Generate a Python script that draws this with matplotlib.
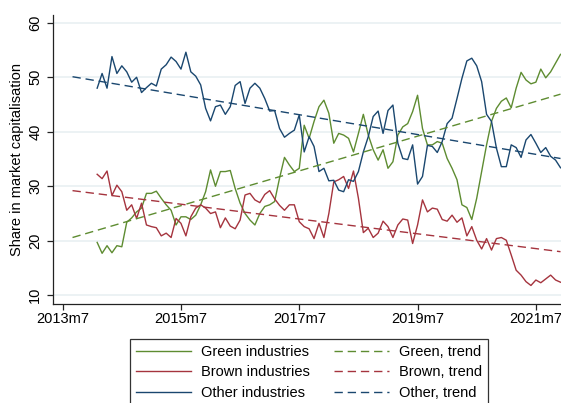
import matplotlib
matplotlib.use("Agg")
import matplotlib.pyplot as plt
import numpy as np
import pandas as pd

plt.rcParams["font.family"] = ["Liberation Sans", "DejaVu Sans"]
plt.rcParams["lines.scale_dashes"] = False

# Monthly shares in market capitalisation (%), 2014m2 - 2021m12
green = [19.7, 17.7, 19.1, 17.8, 19.1, 18.9, 23.4, 24.2, 25.3, 26.0, 28.7, 28.7,
         29.1, 27.8, 26.6, 25.6, 22.9, 24.4, 24.4, 23.9, 24.7, 26.6, 29.0, 33.0,
         30.0, 32.7, 32.7, 32.9, 29.6, 26.9, 25.0, 23.8, 22.9, 25.0, 26.3, 26.6,
         27.2, 31.5, 35.3, 33.9, 32.7, 33.3, 41.2, 38.8, 41.9, 44.6, 45.8, 43.4,
         37.9, 39.7, 39.4, 38.8, 36.3, 39.7, 43.2, 39.4, 36.7, 34.8, 36.7, 33.3,
         34.5, 39.4, 40.9, 41.5, 43.7, 46.7, 40.6, 37.6, 37.6, 38.2, 37.9, 35.1,
         33.3, 31.2, 26.6, 26.1, 23.9, 27.8, 32.7, 37.6, 41.9, 44.3, 45.6, 46.2,
         44.4, 48.0, 50.9, 49.5, 48.8, 49.1, 51.5, 49.9, 51.0, 52.6, 54.2]
brown = [32.2, 31.4, 32.8, 28.3, 30.2, 29.0, 25.6, 26.6, 24.1, 26.9, 22.9, 22.6,
         22.4, 20.9, 21.4, 20.6, 24.1, 23.2, 20.9, 24.4, 26.0, 26.6, 26.0, 25.0,
         25.3, 22.4, 24.2, 22.7, 22.2, 23.8, 28.4, 28.7, 27.5, 27.0, 28.5, 29.2,
         27.7, 26.5, 25.6, 26.6, 26.6, 23.5, 22.6, 22.2, 20.4, 23.2, 20.6, 25.0,
         30.8, 31.2, 31.8, 29.6, 32.8, 27.8, 21.5, 22.3, 20.6, 21.4, 23.6, 22.6,
         20.6, 22.9, 24.0, 23.8, 19.5, 22.9, 27.5, 25.3, 26.0, 25.8, 23.9, 23.6,
         24.7, 23.4, 24.2, 20.9, 22.6, 20.1, 18.5, 20.4, 18.3, 20.4, 20.6, 20.1,
         17.4, 14.6, 13.7, 12.5, 11.8, 12.8, 12.3, 13.0, 13.7, 12.8, 12.4]
other = [48.0, 50.7, 48.0, 53.8, 50.7, 52.1, 51.0, 49.1, 50.0, 47.2, 48.1, 48.9,
         48.4, 51.5, 52.3, 53.7, 52.9, 51.5, 54.6, 51.0, 50.2, 48.6, 44.3, 42.0,
         44.6, 44.9, 43.2, 44.6, 48.5, 49.2, 45.2, 48.0, 48.9, 48.0, 46.1, 43.8,
         43.9, 40.6, 39.0, 39.7, 40.3, 43.1, 36.3, 39.1, 37.3, 32.7, 33.3, 31.0,
         31.1, 29.3, 29.0, 31.2, 30.9, 32.7, 36.3, 39.1, 42.8, 43.8, 39.7, 43.9,
         44.9, 37.9, 35.1, 34.9, 37.6, 30.4, 31.8, 37.5, 37.3, 36.2, 38.2, 41.5,
         42.5, 46.1, 49.8, 53.0, 53.5, 52.1, 49.2, 43.2, 41.9, 37.0, 33.6, 33.6,
         37.6, 37.1, 35.3, 38.5, 39.5, 37.9, 36.2, 37.1, 35.5, 34.8, 33.4]

# Linear trends, given by their values at the first and last month
trend_months = ["2013-09", "2021-12"]
green_trend = [20.6, 46.9]
brown_trend = [29.2, 18.0]
other_trend = [50.1, 35.1]

tick_months = ["2013-07", "2015-07", "2017-07", "2019-07", "2021-07"]

c_green = "#5e8c31"
c_brown = "#a5343e"
c_other = "#1a476f"
c_grid = "#e9f0f2"

base = pd.Period("2013-07", freq="M")


def month_index(periods):
    return np.array([(p - base).n for p in periods])


dates = pd.period_range("2014-02", periods=len(green), freq="M")
x = month_index(dates)
xt = month_index([pd.Period(m, freq="M") for m in trend_months])
xticks = month_index([pd.Period(m, freq="M") for m in tick_months])
xticklabels = [f"{p.year}m{p.month}" for p in (pd.Period(m, freq="M") for m in tick_months)]

fig = plt.figure(figsize=(5.61, 4.03), dpi=100)
ax = fig.add_axes([53.3 / 561, 1 - 304 / 403, 1 - 53.3 / 561, (304 - 14.6) / 403])

lw = 1.0
dash = (6, 3.5)
l1, = ax.plot(x, green, color=c_green, lw=lw, label="Green industries")
l2, = ax.plot(x, brown, color=c_brown, lw=lw, label="Brown industries")
l3, = ax.plot(x, other, color=c_other, lw=lw, label="Other industries")
t1, = ax.plot(xt, green_trend, color=c_green, lw=lw, dashes=dash, label="Green, trend")
t2, = ax.plot(xt, brown_trend, color=c_brown, lw=lw, dashes=dash, label="Brown, trend")
t3, = ax.plot(xt, other_trend, color=c_other, lw=lw, dashes=dash, label="Other, trend")

ax.set_xlim(-1.9, 101.1)
ax.set_ylim(8.4, 61.5)
ax.set_yticks([10, 20, 30, 40, 50, 60])
ax.set_xticks(xticks)
ax.set_xticklabels(xticklabels)
ax.grid(axis="y", color=c_grid, lw=1.2)
ax.set_axisbelow(True)

for s in ("top", "right"):
    ax.spines[s].set_visible(False)
for s in ("left", "bottom"):
    ax.spines[s].set_color("#222222")
    ax.spines[s].set_linewidth(0.9)

ax.tick_params(axis="both", direction="out", length=4, width=0.9, color="#222222",
               labelsize=10.5, labelcolor="black")
ax.tick_params(axis="x", pad=2)
ax.tick_params(axis="y", pad=4)
for lab in ax.get_yticklabels():
    lab.set_rotation(90)
    lab.set_va("center")

ax.set_ylabel("Share in market capitalisation", fontsize=10.5, labelpad=3)

leg = fig.legend(handles=[l1, l2, l3, t1, t2, t3], ncol=2,
                 loc="upper left", bbox_to_anchor=(130 / 561, 1 - 339 / 403),
                 fontsize=10.5, frameon=True, fancybox=False, edgecolor="black",
                 handlelength=3.8, handletextpad=0.7, columnspacing=1.6,
                 labelspacing=0.45, borderpad=0.4, borderaxespad=0)
leg.get_frame().set_linewidth(0.9)

fig.savefig("out.png", dpi=100)
